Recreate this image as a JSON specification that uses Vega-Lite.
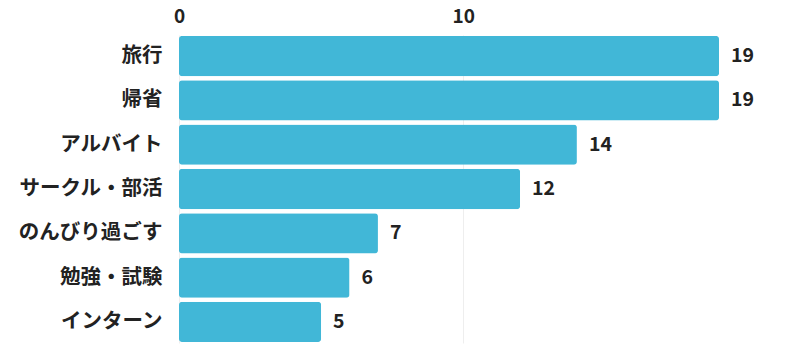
{
  "$schema": "https://vega.github.io/schema/vega-lite/v6.json",
  "width": 540,
  "height": 308,
  "autosize": {"type": "none"},
  "padding": {"left": 179, "top": 35, "right": 85, "bottom": 13},
  "background": "white",
  "config": {"view": {"stroke": null}, "font": "Noto Sans CJK JP"},
  "data": {
    "values": [
      {"item": "旅行", "count": 19},
      {"item": "帰省", "count": 19},
      {"item": "アルバイト", "count": 14},
      {"item": "サークル・部活", "count": 12},
      {"item": "のんびり過ごす", "count": 7},
      {"item": "勉強・試験", "count": 6},
      {"item": "インターン", "count": 5}
    ]
  },
  "encoding": {
    "y": {
      "field": "item",
      "type": "nominal",
      "sort": null,
      "scale": {"paddingInner": 0.09, "paddingOuter": 0.02},
      "axis": {
        "title": null,
        "ticks": false,
        "domain": false,
        "labelFont": "Noto Sans CJK JP",
        "labelFontSize": 20.5,
        "labelFontWeight": "bold",
        "labelColor": "#222222",
        "labelPadding": 17
      }
    },
    "x": {
      "field": "count",
      "type": "quantitative",
      "scale": {"domain": [0, 19], "nice": false},
      "axis": {
        "orient": "top",
        "title": null,
        "values": [0, 10],
        "ticks": false,
        "tickSize": 0,
        "domain": false,
        "grid": true,
        "gridColor": "#eeeeee",
        "labelFlush": false,
        "labelFont": "Noto Sans CJK JP",
        "labelFontSize": 19,
        "labelFontWeight": "bold",
        "labelColor": "#222222",
        "labelPadding": 9
      }
    }
  },
  "layer": [
    {
      "mark": {"type": "bar", "color": "#41b7d7", "cornerRadius": 3}
    },
    {
      "mark": {
        "type": "text",
        "align": "left",
        "baseline": "middle",
        "dx": 12,
        "font": "Noto Sans CJK JP",
        "fontSize": 19.5,
        "fontWeight": "bold",
        "color": "#222222"
      },
      "encoding": {"text": {"field": "count", "type": "quantitative"}}
    }
  ]
}
